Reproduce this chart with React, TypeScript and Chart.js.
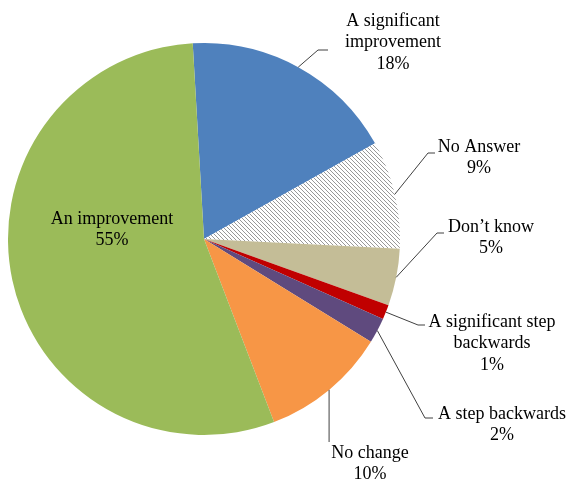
import React, { useEffect, useRef } from 'react';
import { Chart, registerables } from 'chart.js';
Chart.register(...registerables);

const categories = [
  'A significant improvement',
  'No Answer',
  'Don\u2019t know',
  'A significant step backwards',
  'A step backwards',
  'No change',
  'An improvement',
];
const values = [17.8, 8.9, 4.7, 1.2, 2.1, 10.4, 54.9];
const labelLines = [
  ['A significant', 'improvement'],
  ['No Answer'],
  ['Don\u2019t know'],
  ['A significant step', 'backwards'],
  ['A step backwards'],
  ['No change'],
  ['An improvement'],
];
const sliceColors = ['#4F81BD', 'hatch', '#C4BD97', '#C00000', '#5F4A7E', '#F79646', '#9BBB59'];

// label layout (text centre x, first line y, leader elbow/end)
const labelLayout = [
  { x: 393, y: 21, elbow: [318, 50], end: [328, 50] },
  { x: 479, y: 147, elbow: [428, 153], end: [435, 153] },
  { x: 491, y: 227, elbow: [437, 233], end: [444, 233] },
  { x: 492, y: 322, elbow: [418, 325], end: [425, 325] },
  { x: 502, y: 414, elbow: [425, 418], end: [433, 418] },
  { x: 370, y: 453, elbow: null, end: [null, 442] },
  { x: 112, y: 219, elbow: null, end: null },
];

function makeHatch(): CanvasPattern | string {
  const c = document.createElement('canvas');
  c.width = 4;
  c.height = 4;
  const ctx = c.getContext('2d');
  if (!ctx) return '#aaa';
  ctx.fillStyle = '#ffffff';
  ctx.fillRect(0, 0, 4, 4);
  ctx.strokeStyle = '#8c8c8c';
  ctx.lineWidth = 0.9;
  ctx.beginPath();
  ctx.moveTo(-1, -1);
  ctx.lineTo(5, 5);
  ctx.moveTo(-1, 3);
  ctx.lineTo(1, 5);
  ctx.moveTo(3, -1);
  ctx.lineTo(5, 1);
  ctx.stroke();
  return ctx.createPattern(c, 'repeat') || '#aaa';
}

const labelPlugin = {
  id: 'pieLabels',
  afterDraw(chart: any) {
    const ctx = chart.ctx;
    const meta = chart.getDatasetMeta(0);
    const total = values.reduce((a, b) => a + b, 0);
    ctx.save();
    ctx.font = '18px "Liberation Serif", "Times New Roman", serif';
    ctx.fillStyle = '#000';
    ctx.textAlign = 'center';
    ctx.textBaseline = 'middle';
    meta.data.forEach((arc: any, i: number) => {
      const p = arc.getProps(['x', 'y', 'startAngle', 'endAngle', 'outerRadius'], true);
      const mid = (p.startAngle + p.endAngle) / 2;
      const sx = p.x + Math.cos(mid) * p.outerRadius;
      const sy = p.y + Math.sin(mid) * p.outerRadius;
      const lay = labelLayout[i];
      if (lay.end) {
        ctx.strokeStyle = '#404040';
        ctx.lineWidth = 1;
        ctx.beginPath();
        ctx.moveTo(sx, sy);
        if (lay.elbow) ctx.lineTo(lay.elbow[0], lay.elbow[1]);
        const ex = lay.end[0] == null ? sx : lay.end[0];
        ctx.lineTo(ex, lay.end[1]);
        ctx.stroke();
      }
      const lines = [...labelLines[i], Math.round((values[i] / total) * 100) + '%'];
      lines.forEach((t, k) => ctx.fillText(t, lay.x, lay.y + k * 21.5));
    });
    ctx.restore();
  },
};

export default function App() {
  const ref = useRef<HTMLCanvasElement | null>(null);
  useEffect(() => {
    document.body.style.margin = '0';
    if (!ref.current) return;
    const hatch = makeHatch();
    const chart = new Chart(ref.current, {
      type: 'pie',
      data: {
        labels: categories,
        datasets: [
          {
            data: values,
            backgroundColor: sliceColors.map((c) => (c === 'hatch' ? hatch : c)) as any,
            borderWidth: 0,
          },
        ],
      },
      options: {
        responsive: false,
        animation: false,
        rotation: -3.3,
        layout: { padding: { left: 8, right: 168, top: 43, bottom: 45 } },
        plugins: { legend: { display: false }, tooltip: { enabled: false } },
      },
      plugins: [labelPlugin],
    });
    return () => chart.destroy();
  }, []);
  return (
    <div style={{ position: 'fixed', left: 0, top: 0, width: 568, height: 480, background: '#fff' }}>
      <canvas ref={ref} width={568} height={480} />
    </div>
  );
}
